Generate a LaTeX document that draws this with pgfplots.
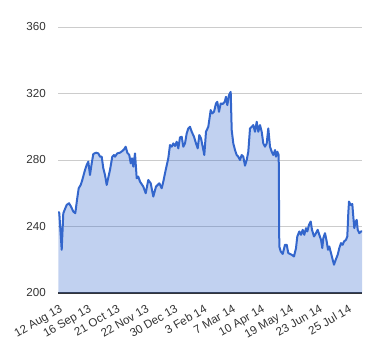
\documentclass[border=0pt]{standalone}
\usepackage{pgfplots}
\pgfplotsset{compat=1.18}
\usepackage{fontspec}
\setmainfont{Liberation Sans}
\definecolor{gline}{HTML}{3366CC}
\definecolor{gridc}{HTML}{CCCCCC}
\definecolor{basec}{HTML}{333333}
\definecolor{txt}{HTML}{333333}
\begin{document}
\begin{tikzpicture}
\useasboundingbox (0,0) rectangle (380pt,360pt);
\begin{axis}[
  at={(58pt,67pt)}, anchor=south west,
  scale only axis, width=304pt, height=266pt,
  xmin=0, xmax=304, ymin=200, ymax=360,
  ytick={240,280,320,360},
  extra y ticks={200},
  extra y tick style={grid style={color=basec, line width=1.3pt}},
  ymajorgrids, grid style={color=gridc, line width=0.8pt},
  xtick={1,29.9,58.8,87.7,116.6,145.5,174.4,203.3,232.2,261.1,290},
  xticklabels={12 Aug 13,16 Sep 13,21 Oct 13,22 Nov 13,30 Dec 13,3 Feb 14,7 Mar 14,10 Apr 14,19 May 14,23 Jun 14,25 Jul 14},
  major tick length=0pt,
  axis line style={draw=none},
  tick label style={font=\fontsize{11.6}{14}\selectfont, text=txt},
  /pgf/number format/assume math mode=true,
  yticklabel style={anchor=east, inner sep=0pt, xshift=-12pt},
  xticklabel style={yshift=-11pt, rotate=30, anchor=north east, inner sep=0pt},
  clip=true,
]
\pgfplotstableread{
x y
0.3 249
1.3 248
3.7 226
5.3 248
7.3 251
8.7 253
11 254
13 252
15.3 249
17.3 248
19 256
20.7 263
22.7 265
24.3 268
27 274
28.7 277
30.3 279
32 271
33.7 278
35.3 283.6
38 284.4
40.3 284
42 282
43.7 282
45.3 275
47 271
48.7 265
50.5 270
52 274
54.3 282
56 283
57 282
59.3 284
62 284.4
64.7 285.6
66 286.4
67.7 288
69.3 284.4
71.3 283
72.7 278
74 281
75.3 276
77 284
78.7 269
80.3 270
82 267
85.3 264
87.7 260
90.3 268
92.7 266
95.3 258
98 264
101.3 266
103.7 263
105.3 267
107.7 274
110.3 281
112 289
113.7 288
115.3 290
117 288.4
118.7 291
120.3 287
122 293.6
123.7 294
125.3 288
127 290
128.7 296
130.3 299
132 300
133.7 297
136 294
138 290
139.7 287
141.3 295
143 293
144.7 288
146.3 283
148 297
150.3 300
152.7 310
154.3 308
156 309
158 314
159.3 315
161 309
162.7 314
164.7 313.7
166.7 315
168 318
169.3 313
171 319
172.7 321
173.7 298
175.3 290
177 286
178.7 283
180.3 282
182 280
183.7 283
185.3 282
187 276.6
188.7 280
190.3 285
192 299
193.7 300
195.3 301
197 297
198.7 303
200.3 297
202 301
203.7 297
205.3 290
207 288
208.7 290
210.3 299
212 288
213.7 285
215.3 283
217 286
218 282
219.3 285
220.7 283
221.3 228
222.7 225
224.7 223.5
227 229
228.7 229
230.3 224
233.7 223
236 222
238 227
239.3 234
241.3 237
243 235
244.7 238
246.3 235
248 239
249.3 237
251 241
252.7 243
254 238
256 234
258 236
259.7 238
261.3 235
263 232
264.3 227
265.3 233
267 236
268.7 231
270 226
271.3 228
273 224
274.7 220
276 217
277.7 220
279.7 223
281.3 227
283 230
284.7 229
286 231
288 232
289.3 234
290.3 248
291 255
292.7 253
294.3 253.5
295.3 246
296.3 239
297.7 243
298.7 244
299.7 238
301.3 236
303 237
304 237
}\series
\addplot[draw=none, fill=gline, fill opacity=0.3] table {\series} \closedcycle;
\addplot[color=gline, line width=2pt, line join=round] table {\series};
\end{axis}
\end{tikzpicture}
\end{document}
